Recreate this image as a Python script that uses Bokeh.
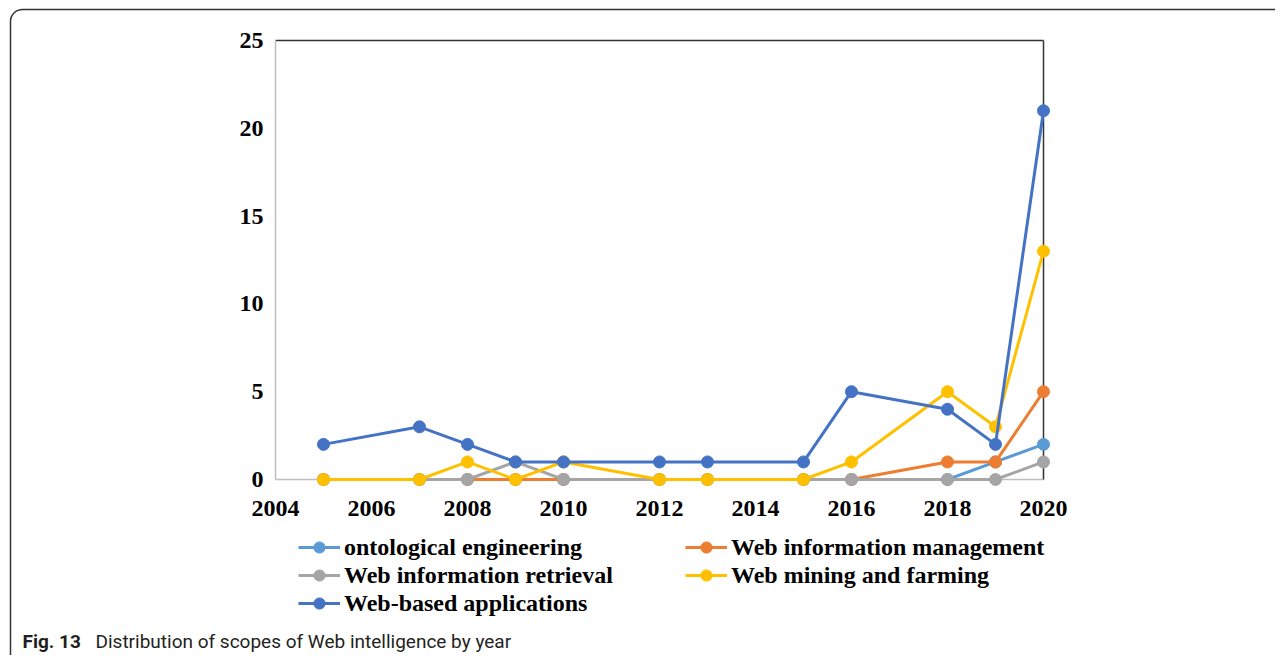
from bokeh.plotting import figure
from bokeh.models import (Legend, LegendItem, Label, BoxAnnotation, FixedTicker,
                          LinearAxis, Range1d)
from bokeh.embed import file_html
from bokeh.resources import INLINE

years = [2005, 2007, 2008, 2009, 2010, 2012, 2013, 2015, 2016, 2018, 2019, 2020]
ontological_engineering = [0, 0, 0, 0, 0, 0, 0, 0, 0, 0, 1, 2]
web_information_management = [0, 0, 0, 0, 0, 0, 0, 0, 0, 1, 1, 5]
web_information_retrieval = [0, 0, 0, 1, 0, 0, 0, 0, 0, 0, 0, 1]
web_mining_and_farming = [0, 0, 1, 0, 1, 0, 0, 0, 1, 5, 3, 13]
web_based_applications = [2, 3, 2, 1, 1, 1, 1, 1, 5, 4, 2, 21]

series_names = ["ontological engineering", "Web information management",
                "Web information retrieval", "Web mining and farming",
                "Web-based applications"]
series_values = [ontological_engineering, web_information_management,
                 web_information_retrieval, web_mining_and_farming,
                 web_based_applications]
colors = ["#5B9BD5", "#ED7D31", "#A5A5A5", "#FFC000", "#4472C4"]

x_ticks = [2004, 2006, 2008, 2010, 2012, 2014, 2016, 2018, 2020]
y_ticks = [0, 5, 10, 15, 20, 25]
x_min, x_max = 2004, 2020
y_min, y_max = 0, 25
caption_bold = "Fig. 13"
caption_text = "Distribution of scopes of Web intelligence by year"

# canvas geometry (pixels)
W, H = 1275, 655
PL, PR, PT, PB = 275, 1043, 40, 479      # plot area edges on the canvas
xs = (PR - PL) / (x_max - x_min)
ys = (PB - PT) / (y_max - y_min)
x_range = Range1d(x_min - PL / xs, x_max + (W - PR) / xs)
y_range = Range1d(y_min - (H - PB) / ys, y_max + PT / ys)

p = figure(width=W, height=H, output_backend="svg", toolbar_location=None,
           x_range=x_range, y_range=y_range,
           min_border=0, min_border_left=0, min_border_right=0,
           min_border_top=0, min_border_bottom=0)
p.outline_line_color = None
p.xgrid.grid_line_color = None
p.ygrid.grid_line_color = None

serif = "Liberation Serif"

def style_axis(ax, ticks, loc, bounds, color):
    ax.ticker = FixedTicker(ticks=ticks)
    ax.fixed_location = loc
    ax.bounds = bounds
    ax.major_tick_line_color = None
    ax.minor_tick_line_color = None
    ax.major_tick_out = 0
    ax.major_tick_in = 0
    ax.axis_line_color = color
    ax.axis_line_width = 1.5
    ax.major_label_text_font = serif
    ax.major_label_text_font_style = "bold"
    ax.major_label_text_font_size = "24px"
    ax.major_label_text_color = "#000000"
    ax.level = "underlay"

style_axis(p.xaxis[0], x_ticks, y_min, (x_min, x_max), "#BFBFBF")
style_axis(p.yaxis[0], y_ticks, x_min, (y_min, y_max), "#BFBFBF")
p.yaxis[0].major_label_standoff = 12
p.xaxis[0].major_label_standoff = 21

top_axis = LinearAxis()
style_axis(top_axis, [], y_max, (x_min, x_max), "#333333")
p.add_layout(top_axis, "above")
right_axis = LinearAxis()
style_axis(right_axis, [], x_max, (y_min, y_max), "#333333")
p.add_layout(right_axis, "right")

items = []
for name, vals, c in zip(series_names, series_values, colors):
    ln = p.line(years, vals, line_color=c, line_width=3)
    sc = p.scatter(years, vals, marker="circle", size=12, fill_color=c, line_color=c)
    items.append(LegendItem(label=name, renderers=[ln, sc]))

ROW = 28
LEG_TOP = 533

def make_legend(its, x):
    n = len(its)
    return Legend(items=its, location=(x, H - LEG_TOP - n * ROW),
                  orientation="vertical",
                  glyph_width=42, glyph_height=ROW, label_height=ROW,
                  label_standoff=4, spacing=0, padding=0, margin=0,
                  border_line_color=None, background_fill_alpha=0,
                  label_text_font=serif, label_text_font_style="bold",
                  label_text_font_size="24px", label_text_color="#000000")

p.add_layout(make_legend([items[0], items[2], items[4]], 298))
p.add_layout(make_legend([items[1], items[3]], 685))

p.add_layout(BoxAnnotation(left=10, right=W + 100, top=9, bottom=H + 100,
                           left_units="canvas", right_units="canvas",
                           top_units="canvas", bottom_units="canvas",
                           fill_color=None, fill_alpha=0, line_color="#333333",
                           line_alpha=1.0, line_width=1.5, border_radius=12))

p.add_layout(Label(x=22, y=641, x_units="canvas", y_units="canvas",
                   text=caption_bold, text_font="Roboto", text_font_style="bold",
                   text_font_size="19px", text_baseline="middle", text_color="#231F20"))
p.add_layout(Label(x=95, y=641, x_units="canvas", y_units="canvas",
                   text=caption_text, text_font="Roboto",
                   text_font_size="19px", text_baseline="middle", text_color="#231F20"))

open("out.html", "w").write(file_html(p, INLINE))
